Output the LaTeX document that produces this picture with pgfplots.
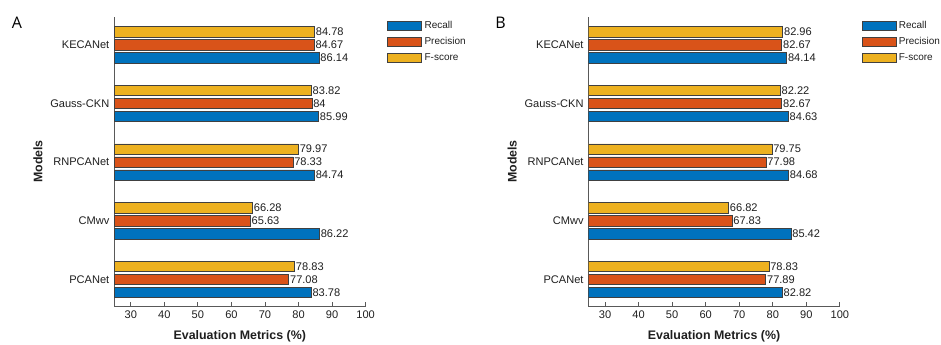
\documentclass[border=0pt]{standalone}
\usepackage{fontspec}
\setmainfont{Liberation Sans}
\newfontfamily\panelfont{Open Sans}
\usepackage{pgfplots}
\usepackage{pgfplotstable}
\pgfplotsset{compat=1.18}
\definecolor{cR}{rgb}{0,0.447,0.741}
\definecolor{cP}{rgb}{0.85,0.325,0.098}
\definecolor{cF}{rgb}{0.929,0.694,0.125}
\definecolor{axgray}{gray}{0.35}
\definecolor{txt}{gray}{0.12}

\pgfplotstableread{
y R P F
1 83.78 77.08 78.83
2 86.22 65.63 66.28
3 84.74 78.33 79.97
4 85.99 84 83.82
5 86.14 84.67 84.78
}\dataA
\pgfplotstableread{
y R P F
1 82.82 77.89 78.83
2 85.42 67.83 66.82
3 84.68 77.98 79.75
4 84.63 82.67 82.22
5 84.14 82.67 82.96
}\dataB

\pgfplotsset{
 mystyle/.style={
  scale only axis, width=188.7pt, height=217.2pt,
  xmin=25, xmax=100, ymin=0.54, ymax=5.48,
  xbar, bar width=7.9pt,
  xtick={30,40,...,100}, ytick={1,...,5},
  yticklabels={PCANet,CMwv,RNPCANet,Gauss-CKN,KECANet},
  axis x line*=bottom, axis y line*=left,
  tick align=inside, major tick length=3pt,
  axis line style={axgray, line width=0.6pt},
  tick style={axgray, line width=0.6pt},
  ticklabel style={font=\fontsize{8.3}{10}\selectfont, text=txt},
  /pgf/number format/assume math mode=true,
  xlabel={Evaluation Metrics (\%)},
  ylabel={Models},
  label style={font=\fontsize{9.3}{11}\selectfont\bfseries, text=txt},
  xlabel style={at={(axis description cs:0.5,-0.1026)},anchor=center},
  ylabel style={at={(axis description cs:-0.302,0.5)},anchor=center},
  nodes near coords,
  every node near coord/.append style={font=\fontsize{8.3}{10}\selectfont, text=txt, anchor=west, inner sep=0.8pt},
  legend style={at={(axis description cs:1.085,0.9955)}, anchor=north west, draw=none, fill=none,
     font=\fontsize{7.5}{9}\selectfont, text=txt, cells={anchor=west}, inner sep=0pt, row sep=1pt,
     nodes={text height=5.5pt, text depth=1.5pt}},
  legend image code/.code={\draw[#1] (0pt,-3.5pt) rectangle (25.5pt,3.5pt);},
 }
}

\begin{document}
\begin{tikzpicture}
\useasboundingbox (0,0) rectangle (705.75pt,258.75pt);
\node[font=\panelfont\fontsize{12}{14}\selectfont, inner sep=0pt, anchor=base west] at (8.8pt,237.5pt) {A};
\node[font=\panelfont\fontsize{12}{14}\selectfont, inner sep=0pt, anchor=base west] at (371.25pt,237.5pt) {B};
\begin{axis}[mystyle, at={(85.5pt,29pt)}, anchor=south west]
\addplot[fill=cR, draw=black!75, line width=0.5pt, bar shift=-9.75pt] table[x=R,y=y]{\dataA};
\addplot[fill=cP, draw=black!75, line width=0.5pt, bar shift=0pt] table[x=P,y=y]{\dataA};
\addplot[fill=cF, draw=black!75, line width=0.5pt, bar shift=9.75pt] table[x=F,y=y]{\dataA};
\legend{Recall,Precision,F-score}
\end{axis}
\begin{axis}[mystyle, at={(441.2pt,29pt)}, anchor=south west]
\addplot[fill=cR, draw=black!75, line width=0.5pt, bar shift=-9.75pt] table[x=R,y=y]{\dataB};
\addplot[fill=cP, draw=black!75, line width=0.5pt, bar shift=0pt] table[x=P,y=y]{\dataB};
\addplot[fill=cF, draw=black!75, line width=0.5pt, bar shift=9.75pt] table[x=F,y=y]{\dataB};
\legend{Recall,Precision,F-score}
\end{axis}
\end{tikzpicture}
\end{document}
